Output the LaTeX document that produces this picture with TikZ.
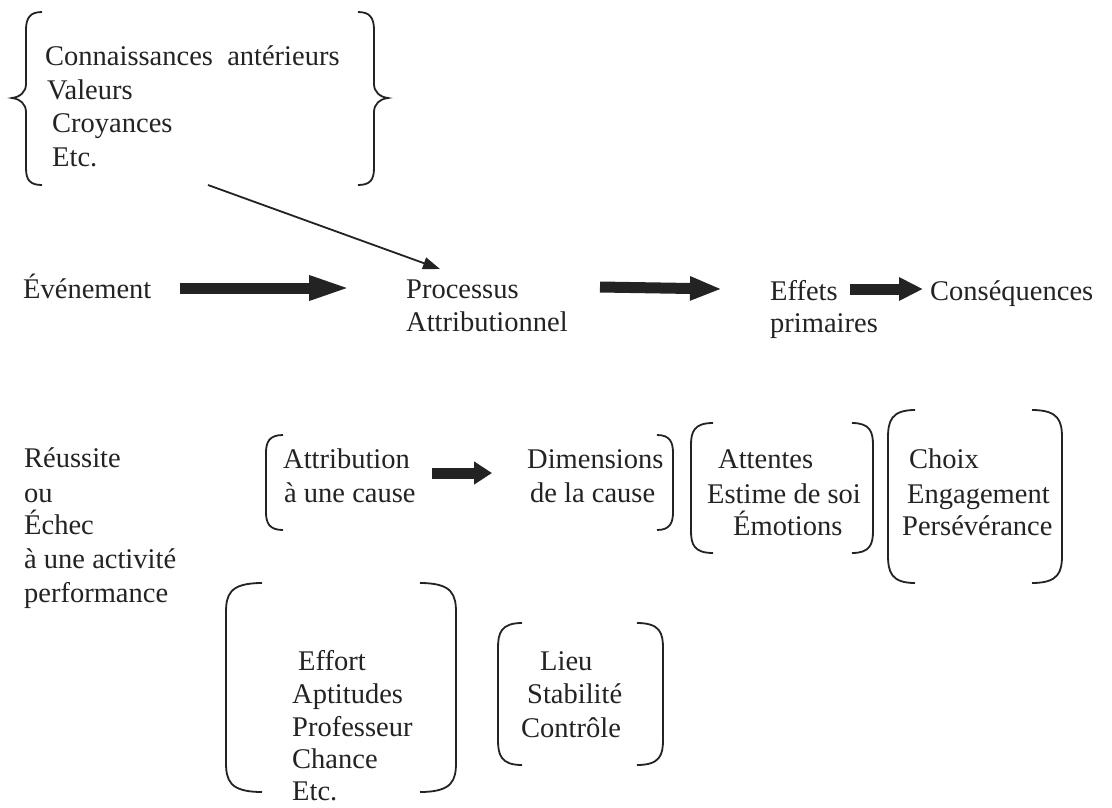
\documentclass[tikz,border=0pt]{standalone}
\usepackage{fontspec}
\setmainfont{Liberation Serif}
\usetikzlibrary{arrows.meta,calc}
\definecolor{ink}{RGB}{35,35,35}

% left bracket: x of stem, x of ends, top, bottom, corner height
\newcommand\lbrk[5]{%
  \draw[brk] (#2,#3) .. controls (#1+3,#3) and (#1,#3+#5*0.4) .. (#1,#3+#5)
    -- (#1,#4-#5) .. controls (#1,#4-#5*0.4) and (#1+3,#4) .. (#2,#4);}
% right bracket: x of ends, x of stem, top, bottom, corner height
\newcommand\rbrk[5]{%
  \draw[brk] (#1,#3) .. controls (#2-3,#3) and (#2,#3+#5*0.4) .. (#2,#3+#5)
    -- (#2,#4-#5) .. controls (#2,#4-#5*0.4) and (#2-3,#4) .. (#1,#4);}

\tikzset{
  lbl/.style={anchor=base west, inner sep=0pt, text=ink,
              font=\fontsize{28.5}{34}\selectfont},
  brk/.style={draw=ink, line width=1.8pt},
  fat/.style={draw=ink, line width=11pt, -{Triangle[length=#1,width=22pt]}},
  fat/.default=40pt,
  slim/.style={draw=ink, line width=1.8pt, -{Triangle[length=17pt,width=12pt]}}
}

\begin{document}
\begin{tikzpicture}[x=1pt,y=-1pt]
\fill[white] (0,0) rectangle (1112,807);
\useasboundingbox (0,0) rectangle (1112,807);

% prior knowledge block
\node[lbl] (k1) at (45,65) {Connaissances\ \ antérieurs};
\node[lbl] (k2) at (47,99) {Valeurs};
\node[lbl] (k3) at (52,132) {Croyances};
\node[lbl] (k4) at (52,166) {Etc.};
\draw[brk] (42,12) .. controls (30,12) and (26,18) .. (26,30) -- (26,84)
  .. controls (26,92) and (20,97) .. (12,98) .. controls (20,99) and (26,104) .. (26,112)
  -- (26,168) .. controls (26,180) and (30,185) .. (42,185);
\draw[brk] (358,12) .. controls (370,12) and (374,18) .. (374,30) -- (374,84)
  .. controls (374,92) and (380,97) .. (388,98) .. controls (380,99) and (374,104) .. (374,112)
  -- (374,168) .. controls (374,180) and (370,185) .. (358,185);

% main chain
\node[lbl] (ev) at (23,298) {Événement};
\node[lbl] (proc) at (406,298) {Processus};
\node[lbl] (proc2) at (406,331) {Attributionnel};
\node[lbl] (eff) at (770,300) {Effets};
\node[lbl] (eff2) at (770,332) {primaires};
\node[lbl] (cons) at (930,300) {Conséquences};

\draw[slim] ($(k4.base west)+(156,19)$) -- ($(proc.base west)+(34,-29)$);
\draw[fat=43pt] ($(ev.base west)+(157,-10)$) -- ($(proc.base west)+(-54,-10)$);
\draw[fat=32pt] ($(proc.base west)+(194,-11)$) -- ($(eff.base west)+(-48,-11)$);
\draw[fat=24pt] ($(eff.base west)+(80,-11)$) -- ($(cons.base west)+(-7,-11)$);

% event
\node[lbl] (r1) at (24,467) {Réussite};
\node[lbl] (r2) at (24,502) {ou};
\node[lbl] (r3) at (24,534) {Échec};
\node[lbl] (r4) at (24,568) {à une activité};
\node[lbl] (r5) at (24,602) {performance};

% attribution and dimensions
\node[lbl] (attr) at (283,468) {Attribution};
\node[lbl] (attr2) at (284,502) {à une cause};
\node[lbl] (dim) at (527,468) {Dimensions};
\node[lbl] (dim2) at (530,502) {de la cause};
\lbrk{266}{283}{435}{530}{18}
\rbrk{657}{673}{435}{530}{18}
\draw[fat=18pt] ($(attr.base west)+(149,5)$) -- ($(dim.base west)+(-35,5)$);

% primary effects
\node[lbl] (at1) at (718,468) {Attentes};
\node[lbl] (at2) at (707,503) {Estime de soi};
\node[lbl] (at3) at (733,535) {Émotions};
\lbrk{691}{713}{423}{553}{22}
\rbrk{852}{873}{423}{553}{22}

% consequences
\node[lbl] (c1) at (909,468) {Choix};
\node[lbl] (c2) at (907,503) {Engagement};
\node[lbl] (c3) at (902,535) {Persévérance};
\lbrk{888}{915}{410}{583}{28}
\rbrk{1032}{1062}{410}{583}{28}

% causes
\node[lbl] (e1) at (298,670) {Effort};
\node[lbl] (e2) at (292,703) {Aptitudes};
\node[lbl] (e3) at (292,736) {Professeur};
\node[lbl] (e4) at (292,768) {Chance};
\node[lbl] (e5) at (292,800) {Etc.};
\lbrk{226}{262}{583}{792}{30}
\rbrk{420}{456}{583}{792}{30}

% dimensions
\node[lbl] (d1) at (540,670) {Lieu};
\node[lbl] (d2) at (527,703) {Stabilité};
\node[lbl] (d3) at (521,737) {Contrôle};
\lbrk{498}{522}{623}{765}{25}
\rbrk{637}{663}{623}{765}{25}
\end{tikzpicture}
\end{document}
